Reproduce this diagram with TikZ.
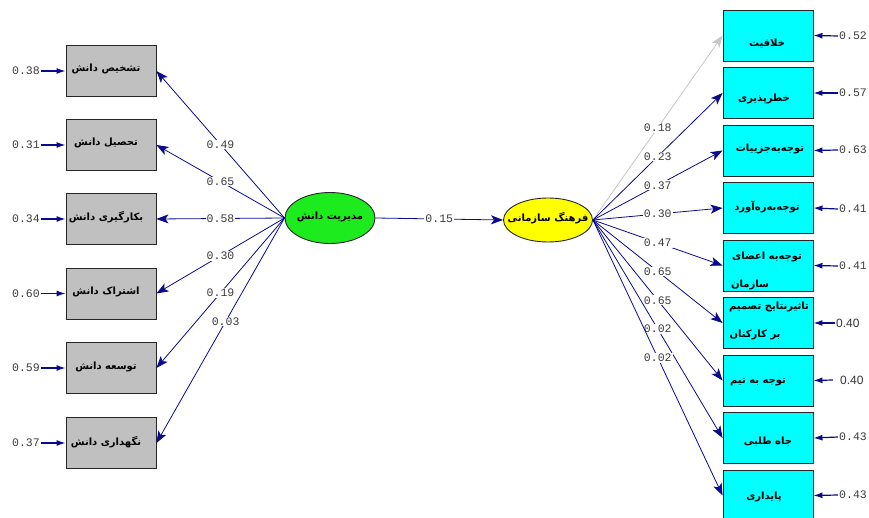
\documentclass[tikz,border=0pt]{standalone}
\usepackage{fontspec}
\usetikzlibrary{arrows.meta,shapes.geometric}
\newfontfamily\arabicfont[Script=Arabic]{DejaVu Sans}
\newfontfamily\numfont{Liberation Mono}
\newfontfamily\arialfont{Liberation Sans}
\TeXXeTstate=1
\definecolor{lnavy}{RGB}{10,10,140}
\definecolor{boxgray}{RGB}{192,192,192}
\definecolor{boxcyan}{RGB}{0,255,255}
\definecolor{elgreen}{RGB}{30,235,30}
\definecolor{elyellow}{RGB}{255,255,0}
\definecolor{numgray}{RGB}{60,60,60}
\tikzset{
  lbox/.style={draw=black!85, fill=boxgray, minimum width=90pt, minimum height=51pt, inner sep=0pt, line width=0.9pt},
  rbox/.style={draw=black!85, fill=boxcyan, minimum width=90pt, minimum height=51pt, inner sep=0pt, line width=0.9pt},
  fa/.style={font=\arabicfont\bfseries\fontsize{10}{12}\selectfont, inner sep=0pt},
  conn/.style={draw=lnavy, line width=0.8pt, -{Stealth[length=12pt,width=9pt,inset=3pt]}},
  gconn/.style={draw=black!22, line width=0.8pt, -{Stealth[length=12pt,width=9pt,inset=3pt]}},
  errc/.style={draw=lnavy, line width=1.2pt, -{Latex[length=9pt,width=6pt]}},
  coef/.style={fill=white, inner sep=1pt, font=\numfont\fontsize{11.5}{11}\selectfont, text=numgray},
  errl/.style={inner sep=1pt, font=\numfont\fontsize{11.5}{11}\selectfont, text=numgray},
  errs/.style={inner sep=1pt, font=\arialfont\fontsize{12}{12}\selectfont, text=black!80},
}
\begin{document}
\begin{tikzpicture}[x=1pt,y=-1pt]
\useasboundingbox (0,0) rectangle (869,518);
% left boxes
\node[lbox] (l1) at (111,71) {};
\node[lbox] (l2) at (111,145) {};
\node[lbox] (l3) at (111,219) {};
\node[lbox] (l4) at (111,293.5) {};
\node[lbox] (l5) at (111,368) {};
\node[lbox] (l6) at (111,443) {};
\node[fa] (tl1) at (106,69) {\beginR تشخیص دانش\endR};
\node[fa] (tl2) at (106,143) {\beginR تحصیل دانش\endR};
\node[fa] (tl3) at (106,217) {\beginR بکارگیری دانش\endR};
\node[fa] (tl4) at (106,292) {\beginR اشتراک دانش\endR};
\node[fa] (tl5) at (106,367) {\beginR توسعه دانش\endR};
\node[fa] (tl6) at (106,442) {\beginR نگهداری دانش\endR};
% left error terms
\node[errl, anchor=east] (el1) at (41,71) {0.38};
\node[errl, anchor=east] (el2) at (41,145) {0.31};
\node[errl, anchor=east] (el3) at (41,219) {0.34};
\node[errl, anchor=east] (el4) at (41,293.5) {0.60};
\node[errl, anchor=east] (el5) at (41,368) {0.59};
\node[errl, anchor=east] (el6) at (41,443) {0.37};
\foreach \i in {1,...,6} \draw[errc] (el\i.east) -- (l\i.west);
% ellipses
\node[ellipse, draw=black!85, fill=elgreen, minimum width=90pt, minimum height=51pt, inner sep=0pt, line width=0.9pt] (G) at (330,218) {};
\node[fa] (tG) at (330,217) {\beginR مدیریت دانش\endR};
\node[ellipse, draw=black!85, fill=elyellow, minimum width=89pt, minimum height=44pt, inner sep=0pt, line width=0.9pt] (Y) at (548,220) {};
\node[fa] (tY) at (548,218) {\beginR فرهنگ سازمانی\endR};
% left paths
\draw[conn] (G.west) -- node[coef, pos=0.5] {0.49} (l1.east);
\draw[conn] (G.west) -- node[coef, pos=0.5] {0.65} (l2.east);
\draw[conn] (G.west) -- node[coef, pos=0.5] {0.58} (l3.east);
\draw[conn] (G.west) -- node[coef, pos=0.5] {0.30} (l4.east);
\draw[conn] (G.west) -- node[coef, pos=0.5] {0.19} (l5.east);
\draw[conn] (G.west) -- node[coef, pos=0.46] {0.03} (l6.east);
\draw[conn] (G.east) -- node[coef, pos=0.5] {0.15} (Y.west);
% right boxes
\node[rbox] (r1) at (768,35.5) {};
\node[rbox] (r2) at (768,93) {};
\node[rbox] (r3) at (768,150.5) {};
\node[rbox] (r4) at (768,208) {};
\node[rbox] (r5) at (768,265.5) {};
\node[rbox] (r6) at (768,323) {};
\node[rbox] (r7) at (768,380.5) {};
\node[rbox] (r8) at (768,438) {};
\node[rbox] (r9) at (768,495.5) {};
\node[fa] (tr1) at (767,44) {\beginR خلاقیت\endR};
\node[fa] (tr2) at (764,99) {\beginR خطرپذیری\endR};
\node[fa] (tr3) at (770,149) {\beginR توجه‌به‌جزییات\endR};
\node[fa] (tr4) at (767,207) {\beginR توجه‌به‌ره‌آورد\endR};
\node[fa] (tr5a) at (767,257) {\beginR توجه‌به اعضای\endR};
\node[fa] (tr5b) at (750,285) {\beginR سازمان\endR};
\node[fa] (tr6a) at (769,307) {\beginR تاثیرنتایج تصمیم\endR};
\node[fa] (tr6b) at (755,335) {\beginR بر کارکنان\endR};
\node[fa] (tr7) at (758,382) {\beginR توجه به تیم\endR};
\node[fa] (tr8) at (768,442) {\beginR جاه طلبی\endR};
\node[fa] (tr9) at (764,497) {\beginR پایداری\endR};
% right paths
\draw[gconn] (Y.east) -- node[coef, pos=0.5] {0.18} (r1.west);
\draw[conn] (Y.east) -- node[coef, pos=0.5] {0.23} (r2.west);
\draw[conn] (Y.east) -- node[coef, pos=0.5] {0.37} (r3.west);
\draw[conn] (Y.east) -- node[coef, pos=0.5] {0.30} (r4.west);
\draw[conn] (Y.east) -- node[coef, pos=0.5] {0.47} (r5.west);
\draw[conn] (Y.east) -- node[coef, pos=0.5] {0.65} (r6.west);
\draw[conn] (Y.east) -- node[coef, pos=0.5] {0.65} (r7.west);
\draw[conn] (Y.east) -- node[coef, pos=0.5] {0.02} (r8.west);
\draw[conn] (Y.east) -- node[coef, pos=0.5] {0.02} (r9.west);
% right error terms
\node[errl, anchor=west] (er1) at (838,36) {0.52};
\node[errl, anchor=west] (er2) at (838,93) {0.57};
\node[errl, anchor=west] (er3) at (838,150) {0.63};
\node[errl, anchor=west] (er4) at (838,209) {0.41};
\node[errl, anchor=west] (er5) at (838,266) {0.41};
\node[errs, anchor=west] (er6) at (835,323) {0.40};
\node[errs, anchor=west] (er7) at (839,380) {0.40};
\node[errl, anchor=west] (er8) at (838,437) {0.43};
\node[errl, anchor=west] (er9) at (838,495) {0.43};
\foreach \i in {1,2,3,4,5,6,8,9} \draw[errc] (er\i.west) -- (r\i.east);
\draw[errc] ([xshift=-6pt]er7.west) -- (r7.east);
\end{tikzpicture}
\end{document}
